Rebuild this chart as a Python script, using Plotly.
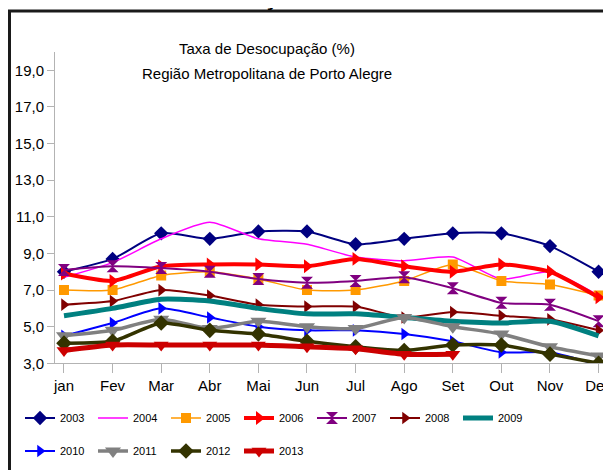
import plotly.graph_objects as go

months = ["jan", "Fev", "Mar", "Abr", "Mai", "Jun", "Jul", "Ago", "Set", "Out", "Nov", "Dez"]
y_ticks = [3, 5, 7, 9, 11, 13, 15, 17, 19]

s2003 = [8.0, 8.7, 10.1, 9.8, 10.2, 10.2, 9.5, 9.8, 10.1, 10.1, 9.4, 8.0]
s2004 = [7.7, 8.5, 9.8, 10.7, 9.8, 9.5, 8.8, 8.6, 8.8, 7.6, 8.0, 6.7]
s2005 = [7.0, 7.0, 7.8, 8.0, 7.6, 7.0, 7.0, 7.5, 8.4, 7.5, 7.3, 6.7]
s2006 = [7.9, 7.5, 8.3, 8.4, 8.4, 8.3, 8.7, 8.3, 8.0, 8.4, 8.0, 6.6]
s2007 = [8.1, 8.3, 8.2, 8.0, 7.6, 7.4, 7.5, 7.7, 7.1, 6.3, 6.2, 5.3]
s2008 = [6.2, 6.4, 7.0, 6.7, 6.2, 6.1, 6.1, 5.5, 5.8, 5.6, 5.4, 4.8]
s2009 = [5.6, 6.0, 6.5, 6.4, 6.0, 5.7, 5.7, 5.5, 5.3, 5.2, 5.3, 4.5]
s2010 = [4.5, 5.2, 6.0, 5.5, 5.0, 4.8, 4.8, 4.6, 4.2, 3.6, 3.6, 2.9]
s2011 = [4.5, 4.8, 5.4, 4.9, 5.3, 5.0, 4.9, 5.5, 5.0, 4.6, 3.9, 3.4]
s2012 = [4.1, 4.2, 5.2, 4.8, 4.6, 4.2, 3.9, 3.7, 4.0, 4.0, 3.5, 3.0]
s2013 = [3.7, 4.0, 4.0, 4.0, 4.0, 3.9, 3.8, 3.5, 3.5]

series = [
    ("2003", s2003, "#000080", 2, "diamond", 11, "legend"),
    ("2004", s2004, "#ff00ff", 1.5, None, 0, "legend"),
    ("2005", s2005, "#ff9900", 1.5, "square", 10, "legend"),
    ("2006", s2006, "#ff0000", 4, "triangle-right", 12, "legend"),
    ("2007", s2007, "#800080", 2, "hourglass", 12, "legend"),
    ("2008", s2008, "#800000", 2, "triangle-right", 11, "legend"),
    ("2009", s2009, "#008080", 5, None, 0, "legend"),
    ("2010", s2010, "#0000ff", 2, "triangle-right", 11, "legend2"),
    ("2011", s2011, "#808080", 3.5, "triangle-down", 14, "legend2"),
    ("2012", s2012, "#333300", 3.5, "diamond", 12, "legend2"),
    ("2013", s2013, "#cc0000", 5, "triangle-down", 13, "legend2"),
]

FONT = "Liberation Sans, Arial, sans-serif"
W, H = 611, 470
OFF = 8  # page body margin: screen = figure + 8


def px(x):
    return (x - OFF) / W


def py(y):
    return 1 - (y - OFF) / H


fig = go.Figure()
for name, vals, color, width, sym, size, leg in series:
    kw = dict(mode="lines")
    if sym:
        kw = dict(mode="lines+markers", marker=dict(symbol=sym, size=size, color=color, line=dict(width=0)))
    fig.add_trace(go.Scatter(
        x=months[:len(vals)], y=vals, name=name,
        line=dict(color=color, width=width, shape="spline", smoothing=0.6),
        legend=leg, **kw))

leg_common = dict(orientation="h", xanchor="left", yanchor="middle", entrywidth=28,
                  font=dict(size=11, family=FONT), bgcolor="rgba(0,0,0,0)",
                  traceorder="normal", itemwidth=30, borderwidth=0)

fig.update_layout(
    width=W, height=H,
    margin=dict(l=0, r=0, t=0, b=0, autoexpand=False),
    paper_bgcolor="white", plot_bgcolor="white",
    font=dict(family=FONT, size=15, color="black"),
    separators=",.",
    showlegend=True,
    legend=dict(x=px(20), y=py(418), **leg_common),
    legend2=dict(x=px(20), y=py(451), **leg_common),
)
PX_PER_CAT = 48.6
x0_cat = -0.185
x1_cat = x0_cat + (W - (55 - OFF)) / PX_PER_CAT
fig.update_xaxes(
    domain=[px(55), 1], automargin=False,
    type="category", categoryorder="array", categoryarray=months,
    range=[x0_cat, x1_cat], showgrid=False, zeroline=False,
    showline=True, linecolor="#b3b3b3", linewidth=1,
    ticks="outside", ticklen=9, tickcolor="#b3b3b3",
    tickfont=dict(size=15, family=FONT),
)
fig.update_yaxes(
    domain=[py(363.3), py(52)], automargin=False,
    range=[3, 20], tickvals=y_ticks, tickformat=".1f", showgrid=False, zeroline=False,
    showline=True, linecolor="#b3b3b3", linewidth=1,
    ticks="outside", ticklen=7, tickcolor="#b3b3b3",
    tickfont=dict(size=15, family=FONT),
)

fig.add_annotation(text="Taxa de Desocupação (%)", xref="paper", yref="paper",
                   x=px(267), y=py(48), showarrow=False, font=dict(size=15, family=FONT),
                   xanchor="center", yanchor="middle")
fig.add_annotation(text="Região Metropolitana de Porto Alegre", xref="paper", yref="paper",
                   x=px(267), y=py(73), showarrow=False, font=dict(size=15, family=FONT),
                   xanchor="center", yanchor="middle")
fig.add_annotation(text="<b>TAXA DE DESOCUPAÇÃO</b>", xref="paper", yref="paper",
                   x=px(5), y=py(12), xanchor="left", yanchor="bottom",
                   showarrow=False, font=dict(size=25, family=FONT))
fig.add_shape(type="rect", xref="paper", yref="paper",
              x0=px(9.5), x1=1.2, y0=py(11), y1=-0.5,
              line=dict(color="#1a1a1a", width=3), layer="above")

fig.write_html("out.html")
